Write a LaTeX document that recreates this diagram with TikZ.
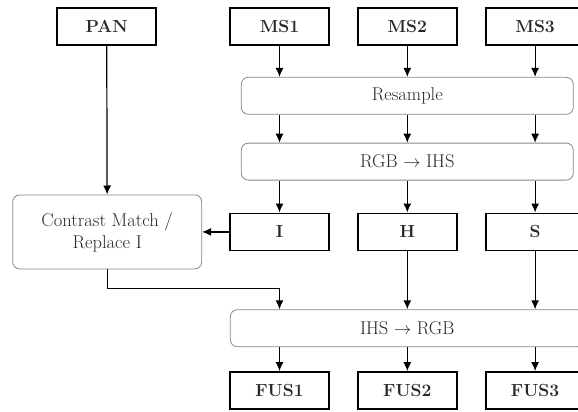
\documentclass[tikz,border=0pt]{standalone}
\usepackage{amssymb}
\usepackage{amsmath}
\usepackage{tikz}
\usetikzlibrary{positioning,arrows.meta}

\definecolor{boxgray}{RGB}{135,135,135}
\definecolor{inkgray}{RGB}{40,40,40}

\begin{document}
\begin{tikzpicture}[%
        every node/.style={font=\fontsize{18.5}{22}\selectfont, text=inkgray, inner sep=2pt},
        bandbox/.style={rectangle, draw=black, line width=1.8pt, minimum width=99pt, minimum height=37pt, font=\fontsize{17.5}{21}\selectfont\bfseries},
        stepbox/.style={rectangle, draw=boxgray, line width=0.8pt, rounded corners=7pt, minimum height=37pt},
        line width=1.2pt,
        node distance=27pt, >={Latex[length=9pt,width=8pt]}
      ]
      \useasboundingbox (0,0) rectangle (578pt,-412pt);
      \clip (0,0) rectangle (578pt,-412pt);
      % input bands
      \node [] (ms1) [bandbox] at (279.5pt,-26.5pt) {MS1};
      \node [] (ms2) [bandbox, right=of ms1] {MS2};
      \node [] (ms3) [bandbox, right=of ms2] {MS3};
      \node [] (pan) [bandbox, left=72pt of ms1] {PAN};
      \node [] (resample) [stepbox, minimum width=332pt, below=31pt of ms2] {Resample};
      \node [] (rgb2ihs) [stepbox, minimum width=332pt, below=28pt of resample] {RGB $\rightarrow$ IHS};
      % components
      \node [] (h) [bandbox, below=32pt of rgb2ihs] {H};
      \node [] (i) [bandbox, left=of h] {I};
      \node [] (s) [bandbox, right=of h] {S};
      \node [] (contrast) [stepbox, align=center, minimum width=189pt, minimum height=74pt, left=of i] {Contrast Match /\\Replace I};
      \node [] (ihs2rgb) [stepbox, minimum width=354pt, below=58pt of h] {IHS $\rightarrow$ RGB};
      % fused bands
      \node [] (fus2) [bandbox, below=24pt of ihs2rgb] {FUS2};
      \node [] (fus1) [bandbox, left=of fus2] {FUS1};
      \node [] (fus3) [bandbox, right=of fus2] {FUS3};
      \path [draw] (ms1) edge[->] (ms1 |- resample.north)
      (ms2) edge[->] (resample)
      (ms3) edge[->] (ms3 |- resample.north)
      (resample.south -| ms1) edge[->] (ms1 |- rgb2ihs.north)
      (resample) edge[->] (rgb2ihs)
      (resample.south -| ms3) edge[->] (ms3 |- rgb2ihs.north)
      (rgb2ihs.south -| i) edge[->] (i)
      (rgb2ihs) edge[->] (h)
      (rgb2ihs.south -| s) edge[->] (s)
      (pan) edge[->] (contrast)
      (i) edge[->] (contrast)
      (h) edge[->] (ihs2rgb)
      (s) edge[->] (s |- ihs2rgb.north)
      (ihs2rgb.south -| fus1) edge[->] (fus1)
      (ihs2rgb) edge[->] (fus2)
      (ihs2rgb.south -| fus3) edge[->] (fus3);
      \draw [->] (contrast.south) |- ([yshift=21pt]ihs2rgb.north -| i) -- (ihs2rgb.north -| i);
    \end{tikzpicture}
\end{document}
